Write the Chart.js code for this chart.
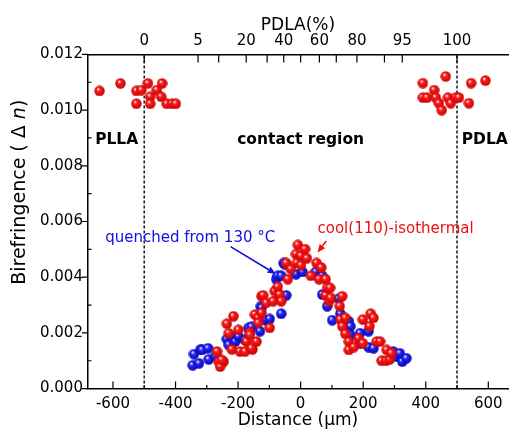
<!DOCTYPE html>
<html><head><meta charset="utf-8">
<script src="https://cdn.jsdelivr.net/npm/chart.js@4/dist/chart.umd.min.js"></script>
<style>html,body{margin:0;padding:0;background:#fff;overflow:hidden}</style>
</head><body>
<canvas id="c" width="513" height="431"></canvas>
<script>
// ---- data ----
const xTickValues = [-600, -400, -200, 0, 200, 400, 600];
const xMinorTicks = [-500, -300, -100, 100, 300, 500];
const yTickValues = [0, 0.002, 0.004, 0.006, 0.008, 0.010, 0.012];
const yMinorTicks = [0.001, 0.003, 0.005, 0.007, 0.009, 0.011];
const pdlaTickDistance = [-500, -328, -262, -174, -107, -54, 0, 60, 114, 180, 268, 325, 500];
const pdlaTickLabels = ['0', '5', '', '20', '', '40', '', '60', '', '80', '', '95', '100'];
const boundaryDistance = [-500, 500];
const boundaryRange = [0, 0.012];

const redPLLA = [[-643,0.01069],[-576,0.01096],[-525,0.01069],[-509,0.01072],[-488,0.01096],[-525,0.01023],
  [-481,0.01048],[-481,0.01023],[-460,0.01072],[-443,0.01096],[-446,0.01048],[-428,0.01023],[-411,0.01023],[-399,0.01023]];
const redPDLA = [[391,0.01097],[464,0.01121],[427,0.01072],[391,0.01045],[404,0.01045],[432,0.01045],[442,0.01025],
  [451,0.01000],[471,0.01045],[480,0.01025],[496,0.01045],[506,0.01045],[545,0.01097],[538,0.01025],[591,0.01106]];
const redContact = [[-267,0.00133],[-262,0.00097],[-246,0.00097],[-257,0.00079],[-252,0.00103],
  [-236,0.00233],[-230,0.00199],[-220,0.00141],[-215,0.00260],[-199,0.00211],[-194,0.00133],[-178,0.00133],
  [-173,0.00169],[-162,0.00202],[-154,0.00141],[-162,0.00193],[-157,0.00145],[-146,0.00266],[-141,0.00169],
  [-136,0.00254],[-136,0.00236],[-125,0.00272],[-125,0.00332],[-120,0.00335],[-110,0.00308],[-99,0.00218],
  [-88,0.00314],[-83,0.00350],[-73,0.00366],[-67,0.00338],[-62,0.00314],[-46,0.00451],[-41,0.00393],
  [-31,0.00429],[-15,0.00483],[-12,0.00451],[-9,0.00516],[1,0.00477],[1,0.00443],[14,0.00501],[20,0.00468],
  [33,0.00405],[51,0.00451],[59,0.00393],[66,0.00435],[80,0.00393],[80,0.00335],[85,0.00362],[91,0.00314],
  [94,0.00362],[96,0.00326],[125,0.00296],[127,0.00248],[133,0.00332],[133,0.00224],[143,0.00254],
  [143,0.00197],[154,0.00169],[154,0.00139],[170,0.00149],[185,0.00181],[199,0.00248],[199,0.00163],
  [220,0.00224],[224,0.00269],[233,0.00254],[243,0.00169],[254,0.00169],[259,0.00100],[273,0.00100],
  [275,0.00139],[285,0.00105],[290,0.00127]];
const blueQuenched = [[-345,0.00084],[-341,0.00124],[-325,0.00091],[-320,0.00141],[-315,0.00139],[-296,0.00145],
  [-294,0.00105],[-272,0.00117],[-236,0.00178],[-230,0.00157],[-225,0.00190],[-209,0.00169],[-199,0.00187],
  [-178,0.00175],[-167,0.00218],[-157,0.00222],[-130,0.00206],[-127,0.00296],[-125,0.00290],[-110,0.00245],
  [-99,0.00250],[-78,0.00393],[-73,0.00405],[-62,0.00405],[-62,0.00269],[-54,0.00451],[-51,0.00447],
  [-46,0.00335],[-15,0.00411],[6,0.00419],[48,0.00419],[69,0.00405],[69,0.00338],[85,0.00296],[101,0.00246],
  [122,0.00323],[127,0.00269],[154,0.00242],[159,0.00224],[159,0.00193],[190,0.00199],[190,0.00163],
  [217,0.00206],[217,0.00149],[233,0.00145],[296,0.00133],[306,0.00115],[317,0.00127],[325,0.00097],[338,0.00109]];

// ---- styling helpers ----
function sphere(base, dark) {
  const s = 11, c = document.createElement('canvas');
  c.width = c.height = s;
  const g = c.getContext('2d');
  const gr = g.createRadialGradient(4, 3.6, 0.3, 5.5, 5.5, 5.6);
  gr.addColorStop(0, '#ffffff');
  gr.addColorStop(0.3, base);
  gr.addColorStop(1, dark);
  g.fillStyle = gr;
  g.beginPath(); g.arc(5.5, 5.5, 5.2, 0, Math.PI * 2); g.fill();
  return c;
}
const toXY = arr => arr.map(p => ({x: p[0], y: p[1]}));
const FONT = 'DejaVu Sans';

const notes = [
  {text: 'PLLA', x: -657, y: 0.00893, align: 'left', color: '#000', weight: 'bold', size: 15.5},
  {text: 'contact region', x: 0, y: 0.00893, align: 'center', color: '#000', weight: 'bold', size: 15.5},
  {text: 'PDLA', x: 515, y: 0.00893, align: 'left', color: '#000', weight: 'bold', size: 15.5},
  {text: 'quenched from 130 °C', x: -625, y: 0.00542, align: 'left', color: '#1010e0', weight: 'normal', size: 15},
  {text: 'cool(110)-isothermal', x: 54, y: 0.00571, align: 'left', color: '#ee1010', weight: 'normal', size: 15}
];
const arrows = [
  {from: [-224, 0.0051], to: [-80, 0.00412], color: '#1010e0'},
  {from: [82, 0.0053], to: [54, 0.00489], color: '#ee1010'}
];
// y-axis title, drawn rotated with italic "n"
const yTitle = {parts: [['Birefringence ( Δ ', ''], ['n', 'italic '], [')', '']], y: 0.00705, offset: 68, size: 19};

const decor = {
  id: 'decor',
  afterDraw(chart) {
    const {ctx, chartArea: a, scales} = chart;
    const x = scales.x, y = scales.y;
    ctx.save();
    ctx.strokeStyle = '#000'; ctx.lineWidth = 1.2;
    ctx.beginPath();
    xTickValues.forEach(v => { const p = x.getPixelForValue(v); ctx.moveTo(p, a.bottom); ctx.lineTo(p, a.bottom - 7); });
    xMinorTicks.forEach(v => { const p = x.getPixelForValue(v); ctx.moveTo(p, a.bottom); ctx.lineTo(p, a.bottom - 3.5); });
    yTickValues.forEach(v => { const p = y.getPixelForValue(v); ctx.moveTo(a.left, p); ctx.lineTo(a.left - 6, p); });
    yMinorTicks.forEach(v => { const p = y.getPixelForValue(v); ctx.moveTo(a.left, p); ctx.lineTo(a.left + 3.5, p); });
    pdlaTickDistance.forEach(v => { const p = x.getPixelForValue(v); ctx.moveTo(p, a.top); ctx.lineTo(p, a.top + 8); });
    ctx.stroke();
    // text notes
    ctx.textBaseline = 'middle';
    notes.forEach(n => {
      ctx.font = n.weight + ' ' + n.size + 'px "' + FONT + '"';
      ctx.fillStyle = n.color; ctx.textAlign = n.align;
      ctx.fillText(n.text, x.getPixelForValue(n.x), y.getPixelForValue(n.y));
    });
    // y title
    ctx.save();
    ctx.translate(a.left - yTitle.offset, y.getPixelForValue(yTitle.y));
    ctx.rotate(-Math.PI / 2);
    ctx.fillStyle = '#000'; ctx.textAlign = 'left';
    let total = 0;
    yTitle.parts.forEach(p => { ctx.font = p[1] + yTitle.size + 'px "' + FONT + '"'; total += ctx.measureText(p[0]).width; });
    let cx = -total / 2;
    yTitle.parts.forEach(p => {
      ctx.font = p[1] + yTitle.size + 'px "' + FONT + '"';
      ctx.fillText(p[0], cx, 0);
      cx += ctx.measureText(p[0]).width;
    });
    ctx.restore();
    // arrows
    arrows.forEach(ar => {
      const x1 = x.getPixelForValue(ar.from[0]), y1 = y.getPixelForValue(ar.from[1]);
      const x2 = x.getPixelForValue(ar.to[0]), y2 = y.getPixelForValue(ar.to[1]);
      const ang = Math.atan2(y2 - y1, x2 - x1), L = 8, W = 3.5;
      ctx.strokeStyle = ar.color; ctx.fillStyle = ar.color; ctx.lineWidth = 1.6;
      const bx = x2 - L * Math.cos(ang), by = y2 - L * Math.sin(ang);
      ctx.beginPath(); ctx.moveTo(x1, y1); ctx.lineTo(bx, by); ctx.stroke();
      ctx.beginPath();
      ctx.moveTo(x2, y2);
      ctx.lineTo(bx + W * Math.sin(ang), by - W * Math.cos(ang));
      ctx.lineTo(bx - W * Math.sin(ang), by + W * Math.cos(ang));
      ctx.closePath(); ctx.fill();
    });
    ctx.restore();
  }
};

const boundaryDatasets = boundaryDistance.map(d => ({
  data: boundaryRange.map(v => ({x: d, y: v})),
  showLine: true, borderColor: '#222', borderWidth: 1.6, borderDash: [3, 2],
  pointRadius: 0, fill: false
}));

new Chart(document.getElementById('c'), {
  type: 'scatter',
  data: {
    datasets: [
      {label: 'cool(110)-isothermal', data: toXY(redPLLA.concat(redContact, redPDLA)), pointStyle: sphere('#ff1c1c', '#c40000')},
      {label: 'quenched from 130 °C', data: toXY(blueQuenched), pointStyle: sphere('#2a2aff', '#0000a8')},
      ...boundaryDatasets
    ]
  },
  options: {
    responsive: false, animation: false, devicePixelRatio: 1,
    layout: {padding: {left: 35, right: 0, top: 0, bottom: 0}},
    plugins: {legend: {display: false}, tooltip: {enabled: false}},
    scales: {
      x: {
        type: 'linear', position: 'bottom', min: -680, max: 663,
        afterBuildTicks: s => { s.ticks = xTickValues.map(v => ({value: v})); },
        grid: {display: false, drawTicks: false},
        border: {display: true, color: '#000', width: 1.5},
        ticks: {padding: 7, color: '#000', font: {family: FONT, size: 15}, maxRotation: 0, autoSkip: false},
        title: {display: true, text: 'Distance (μm)', color: '#000', font: {family: FONT, size: 17}, padding: {top: -10, bottom: 0}}
      },
      x2: {
        type: 'linear', position: 'top', min: -680, max: 663,
        afterBuildTicks: s => { s.ticks = pdlaTickDistance.map(v => ({value: v})); },
        grid: {display: false, drawTicks: false},
        border: {display: true, color: '#000', width: 1.5},
        ticks: {padding: 4, color: '#000', font: {family: FONT, size: 15}, maxRotation: 0, autoSkip: false,
          callback: (v, i) => pdlaTickLabels[i]},
        title: {display: true, text: 'PDLA(%)', color: '#000', font: {family: FONT, size: 17}, padding: {top: 15, bottom: -7}}
      },
      y: {
        type: 'linear', position: 'left', min: 0, max: 0.012,
        afterBuildTicks: s => { s.ticks = yTickValues.map(v => ({value: v})); },
        grid: {display: false, drawTicks: false},
        border: {display: true, color: '#000', width: 1.5},
        ticks: {padding: 5, color: '#000', font: {family: FONT, size: 15}, callback: v => v.toFixed(3)},
        title: {display: false}
      }
    }
  },
  plugins: [decor]
});
</script>
</body></html>
